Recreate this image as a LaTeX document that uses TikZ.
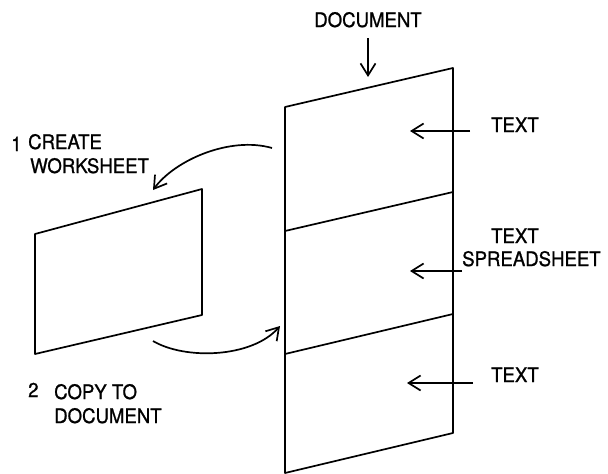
\documentclass[tikz,border=0pt]{standalone}
\usepackage{fontspec}
\setmainfont{TeX Gyre Heros}[FakeStretch=0.93,FakeBold=1]
\usetikzlibrary{arrows.meta}
\begin{document}
\begin{tikzpicture}[x=1pt,y=-1pt,
  sheet/.style={line width=1.7pt,line join=round},
  pointer/.style={line width=1.7pt,-{Straight Barb[length=12pt,width=15pt,line width=1.7pt]}},
  lbl/.style={inner sep=0pt,anchor=base west,font=\fontsize{20}{24}\selectfont}]
\useasboundingbox (0,0) rectangle (608,474);

% the document page, split into three parts
\coordinate (dtl) at (285,107);
\coordinate (dtr) at (453,68);
\coordinate (dbr) at (453,433);
\coordinate (dbl) at (285,473);
\draw[sheet] (dtl) -- (dtr) -- (dbr) -- (dbl) -- cycle;
\coordinate (d1l) at (285,231);
\coordinate (d1r) at (453,192);
\coordinate (d2l) at (285,354);
\coordinate (d2r) at (453,314);
\draw[sheet] (d1l) -- (d1r);
\draw[sheet] (d2l) -- (d2r);

% the worksheet
\coordinate (wtl) at (35,234);
\coordinate (wtr) at (202,189);
\coordinate (wbr) at (202,315);
\coordinate (wbl) at (35,354);
\draw[sheet] (wtl) -- (wtr) -- (wbr) -- (wbl) -- cycle;

% labels (a multi-line label sits on the baseline of its last line)
\node[lbl,anchor=base] (doc) at (368,27) {DOCUMENT};
\node[lbl] (t1) at (491,132) {TEXT};
\node[lbl] (t2) at (491,243) {TEXT};
\node[lbl] (ss) at (462,266) {SPREADSHEET};
\node[lbl] (t3) at (491,382) {TEXT};
\node[lbl] (n1) at (11,151) {1};
\node[lbl,align=left] (create) at (28,173) {CREATE\\\hspace*{2pt}WORKSHEET};
\node[lbl] (n2) at (28,397) {2};
\node[lbl,align=left] (copy) at (54,423) {COPY TO\\DOCUMENT};

% pointers into the document
\coordinate (docA) at (368,38);
\coordinate (docB) at (368,77);
\draw[pointer] (docA) -- (docB);
\coordinate (p1a) at (470,131);
\coordinate (p1b) at (410,131);
\draw[pointer] (p1a) -- (p1b);
\coordinate (p2a) at (462,271);
\coordinate (p2b) at (410,271);
\draw[pointer] (p2a) -- (p2b);
\coordinate (p3a) at (473,383);
\coordinate (p3b) at (407,383);
\draw[pointer] (p3a) -- (p3b);

% step arrows between the two sheets
\coordinate (s1a) at (272,148);
\coordinate (s1b) at (153,190);
\draw[pointer] (s1a) .. controls (230,136) and (175,160) .. (s1b);
\coordinate (s2a) at (153,341);
\coordinate (s2b) at (280,326);
\draw[pointer] (s2a) .. controls (185,360) and (252,358) .. (s2b);
\end{tikzpicture}
\end{document}
